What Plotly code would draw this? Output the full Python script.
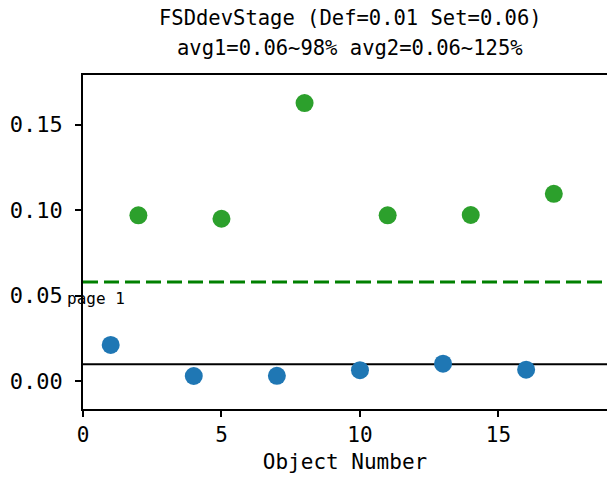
import plotly.graph_objects as go

title_line1 = "FSDdevStage (Def=0.01 Set=0.06)"
title_line2 = "avg1=0.06~98% avg2=0.06~125%"

blue_x = [1, 4, 7, 10, 13, 16]
blue_y = [0.0211, 0.0029, 0.0030, 0.0063, 0.0101, 0.0066]
green_x = [2, 5, 8, 11, 14, 17]
green_y = [0.0969, 0.0949, 0.1626, 0.0969, 0.0971, 0.1095]

def_line = 0.0098
set_line = 0.0579

x_ticks = [0, 5, 10, 15]
y_ticks = [0.00, 0.05, 0.10, 0.15]

FONT = "DejaVu Sans Mono"

fig = go.Figure()
fig.add_trace(go.Scatter(x=blue_x, y=blue_y, mode="markers",
                         marker=dict(color="#1f77b4", size=18), showlegend=False))
fig.add_trace(go.Scatter(x=green_x, y=green_y, mode="markers",
                         marker=dict(color="#2ca02c", size=18), showlegend=False))

fig.add_shape(type="line", xref="paper", x0=0, x1=1, yref="y", y0=def_line, y1=def_line,
              line=dict(color="black", width=2), layer="below")
fig.add_shape(type="line", xref="paper", x0=0, x1=1, yref="y", y0=set_line, y1=set_line,
              line=dict(color="#008000", width=3, dash="15px,6px"), layer="below")

fig.add_annotation(text="page 1", xref="paper", yref="paper", x=-0.034, y=0.332,
                   xanchor="left", yanchor="middle", showarrow=False,
                   font=dict(family=FONT, size=16, color="black"))

for txt, yy in [(title_line1, 1.171), (title_line2, 1.081)]:
    fig.add_annotation(text=txt, xref="paper", yref="paper", x=0.51, y=yy,
                       xanchor="center", yanchor="middle", showarrow=False,
                       font=dict(family=FONT, size=20.5, color="black"))

fig.update_layout(
    width=607, height=484,
    margin=dict(l=83, r=0, t=75, b=75, autoexpand=False),
    paper_bgcolor="white", plot_bgcolor="white",
    font=dict(family=FONT, color="black"),
    xaxis=dict(range=[0, 18.92], tickvals=x_ticks, showgrid=False, zeroline=False,
               automargin=False,
               showline=True, linecolor="black", linewidth=1.5, mirror=True,
               ticks="outside", ticklen=6, tickwidth=1.5, tickcolor="black",
               tickfont=dict(family=FONT, size=21),
               title=dict(text="Object Number", font=dict(family=FONT, size=21), standoff=8)),
    yaxis=dict(range=[-0.0164, 0.179], tickvals=y_ticks, tickformat=".2f",
               showgrid=False, zeroline=False, automargin=False,
               showline=True, linecolor="black", linewidth=1.5, mirror=False,
               ticks="outside", ticklen=6, tickwidth=1.5, tickcolor="black",
               ticklabelstandoff=8,
               tickfont=dict(family=FONT, size=22)),
)

fig.write_html("out.html", config={"displayModeBar": False},
               post_script="document.body.style.margin='0';")
